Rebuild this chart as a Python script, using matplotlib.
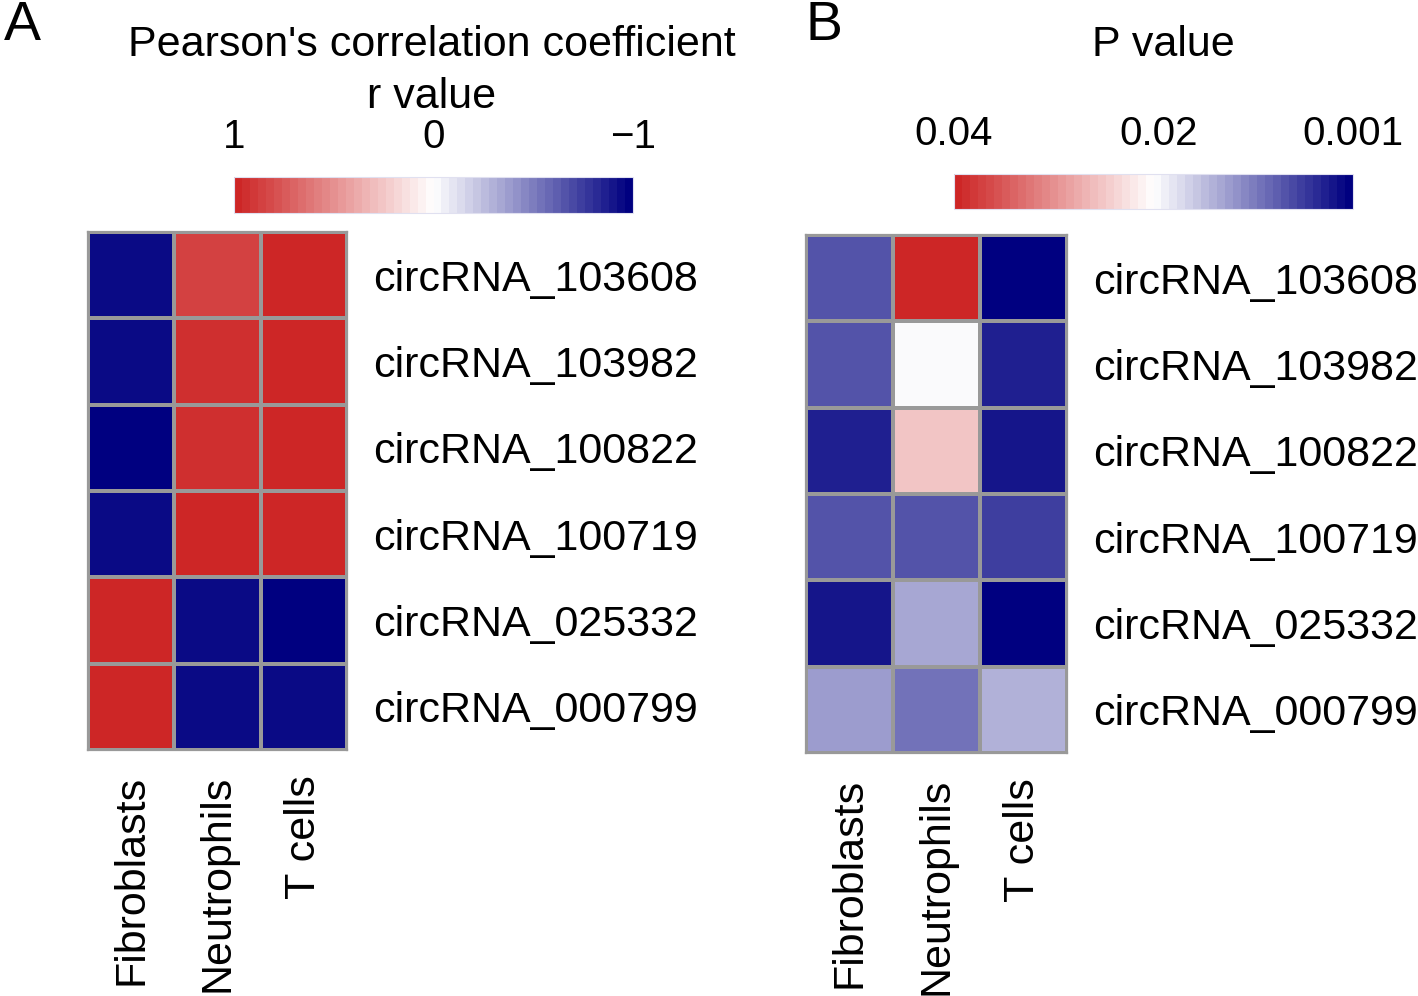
import numpy as np
import matplotlib
matplotlib.use("Agg")
import matplotlib.pyplot as plt
from matplotlib.colors import LinearSegmentedColormap, Normalize
from matplotlib.cm import ScalarMappable

plt.rcParams['font.family'] = ['Liberation Sans', 'DejaVu Sans']

genes = ["circRNA_103608", "circRNA_103982", "circRNA_100822",
         "circRNA_100719", "circRNA_025332", "circRNA_000799"]
cells = ["Fibroblasts", "Neutrophils", "T cells"]

# Pearson r values (rows = genes, cols = cells)
r_fibro = [-0.96, -0.96, -1.00, -0.96, 1.00, 0.96]
r_neut = [0.87, 0.93, 0.93, 0.97, -0.96, -0.96]
r_tcell = [0.99, 0.99, 0.99, 0.96, -1.00, -0.96]

# P values
p_fibro = [0.0073, 0.0080, 0.0039, 0.0080, 0.0033, 0.0129]
p_neut = [0.0395, 0.0203, 0.0258, 0.0073, 0.0137, 0.0098]
p_tcell = [0.0010, 0.0041, 0.0033, 0.0059, 0.0010, 0.0145]

r_ticks = [1, 0, -1]
r_ticklabels = ["1", "0", "\u22121"]
p_ticks = [0.04, 0.02, 0.001]
p_ticklabels = ["0.04", "0.02", "0.001"]

cmap = LinearSegmentedColormap.from_list("pal", ["#000080", "#FFFFFF", "#CD2626"], N=50)

W, H = 1418, 996
fig = plt.figure(figsize=(W / 100, H / 100), dpi=100)

def px_axes(x0, y0, x1, y1):
    return fig.add_axes([x0 / W, 1 - y1 / H, (x1 - x0) / W, (y1 - y0) / H])

FS = 31
grid_col = "#999999"

def heatmap(box, data, norm):
    ax = px_axes(*box)
    arr = np.array(data).T  # rows genes
    ax.pcolormesh(arr, cmap=cmap, norm=norm, edgecolors=grid_col, linewidth=1.6)
    ax.set_xlim(0, arr.shape[1])
    ax.set_ylim(arr.shape[0], 0)
    ax.set_xticks(np.arange(arr.shape[1]) + 0.5)
    ax.set_xticklabels(cells, rotation=90, fontsize=FS, va="top", ha="center")
    ax.set_yticks(np.arange(arr.shape[0]) + 0.5)
    ax.set_yticklabels(genes, fontsize=FS)
    ax.yaxis.tick_right()
    ax.tick_params(axis="both", length=0)
    ax.tick_params(axis="y", pad=19)
    ax.tick_params(axis="x", pad=18)
    for s in ax.spines.values():
        s.set_color(grid_col)
        s.set_linewidth(1.6)
    return ax

def colorbar(box, norm, ticks, labels):
    cax = px_axes(*box)
    cb = fig.colorbar(ScalarMappable(norm=norm, cmap=cmap), cax=cax, orientation="horizontal")
    cax.invert_xaxis()
    cb.outline.set_edgecolor("#E0E0F0")
    cb.outline.set_linewidth(0.8)
    cax.xaxis.set_ticks_position("top")
    cax.xaxis.set_label_position("top")
    cb.set_ticks(ticks)
    cb.set_ticklabels(labels)
    cax.tick_params(axis="x", length=0, labelsize=29, pad=15)
    return cb

normA = Normalize(vmin=-1, vmax=1)
normB = Normalize(vmin=0.001, vmax=0.04)

heatmap((88, 232, 347, 750), [r_fibro, r_neut, r_tcell], normA)
heatmap((806, 235, 1067, 753), [p_fibro, p_neut, p_tcell], normB)

colorbar((234, 177, 633, 213), normA, r_ticks, r_ticklabels)
colorbar((954, 174, 1353, 209), normB, p_ticks, p_ticklabels)

fig.text(432 / W, 1 - 45 / H, "Pearson's correlation coefficient", fontsize=FS, ha="center", va="center")
fig.text(432 / W, 1 - 97 / H, "r value", fontsize=FS, ha="center", va="center")
fig.text(1163 / W, 1 - 45 / H, "P value", fontsize=FS, ha="center", va="center")

fig.text(22 / W, 1 - 26 / H, "A", fontsize=40, ha="center", va="center")
fig.text(824 / W, 1 - 26 / H, "B", fontsize=40, ha="center", va="center")

fig.savefig("out.png", dpi=100)
